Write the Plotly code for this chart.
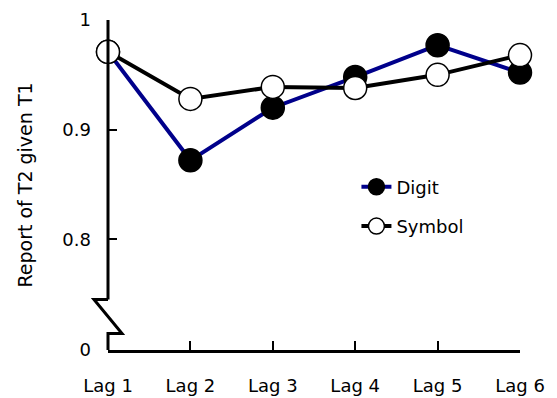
import plotly.graph_objects as go

categories = ["Lag 1", "Lag 2", "Lag 3", "Lag 4", "Lag 5", "Lag 6"]
digit = [0.971, 0.872, 0.920, 0.948, 0.977, 0.952]
symbol = [0.971, 0.928, 0.939, 0.938, 0.950, 0.968]
ytick_vals = [0.699, 0.8, 0.9, 1.0]
ytick_text = ["0", "0.8", "0.9", "1"]

FONT = "DejaVu Sans, sans-serif"
xpos = list(range(len(categories)))

fig = go.Figure()
fig.add_trace(go.Scatter(
    x=xpos, y=digit, name="Digit", mode="lines+markers", legendgroup="a",
    line=dict(color="#00008B", width=4),
    marker=dict(size=23, color="black", line=dict(color="black", width=1.5)),
    cliponaxis=False,
))
fig.add_trace(go.Scatter(
    x=xpos, y=symbol, name="Symbol", mode="lines+markers", legendgroup="b",
    line=dict(color="black", width=4),
    marker=dict(size=23, color="white", line=dict(color="black", width=1.5)),
    cliponaxis=False,
))

ymin, ymax = ytick_vals[0], ytick_vals[-1]
def frac(v):
    return (v - ymin) / (ymax - ymin)

# y-axis line with break (decoration)
brk_top = 0.745
brk_bot = 0.714
dx = 0.034
line = dict(color="black", width=3)
fig.add_shape(type="line", xref="paper", yref="paper", x0=0, x1=0,
              y0=frac(brk_top), y1=1, line=line)
fig.add_shape(type="path", xref="paper", yref="paper",
              path=f"M 0 {frac(brk_top)} L {-dx} {frac(brk_top)} L {dx} {frac(brk_bot)} L 0 {frac(brk_bot)} L 0 0",
              line=line)

fig.update_layout(
    width=549, height=390,
    margin=dict(l=100, r=37, t=12, b=48, autoexpand=False),
    paper_bgcolor="white", plot_bgcolor="white",
    font=dict(family=FONT, size=18, color="black"),
    showlegend=True,
    legend=dict(x=0.603, y=0.55, xanchor="left", yanchor="top",
                bgcolor="rgba(0,0,0,0)", font=dict(size=18, family=FONT),
                traceorder="grouped", tracegroupgap=13),
    xaxis=dict(range=[0, 5], tickvals=xpos, ticktext=categories,
               showgrid=False, zeroline=False, showline=True,
               linecolor="black", linewidth=3, automargin=False,
               ticks="inside", ticklen=9, tickwidth=2, tickcolor="black",
               ticklabelstandoff=17),
    yaxis=dict(range=[ymin, ymax], tickvals=ytick_vals, ticktext=ytick_text,
               showgrid=False, zeroline=False, showline=False, automargin=False,
               ticks="inside", ticklen=9, tickwidth=2, tickcolor="black",
               ticklabelstandoff=16,
               title=dict(text="Report of T2 given T1", standoff=24,
                          font=dict(size=19, family=FONT))),
)

fig.write_html("out.html")
